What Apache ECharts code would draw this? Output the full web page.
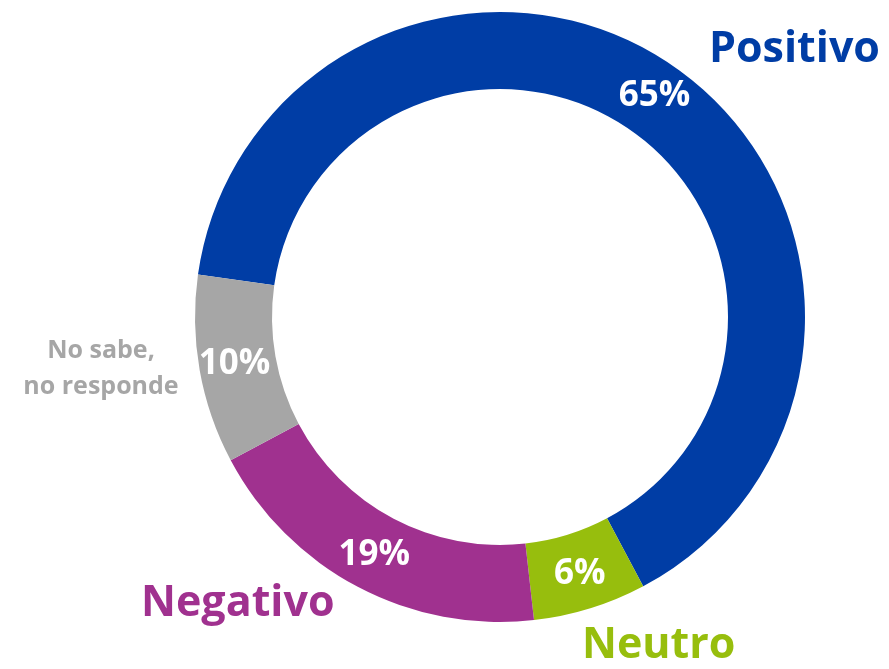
<!DOCTYPE html>
<html>
<head>
    <meta charset="utf-8">
    <title>Opinión</title>
    <script src="https://cdn.jsdelivr.net/npm/echarts@6/dist/echarts.min.js"></script>
    <style>
        html, body { margin: 0; padding: 0; background: #ffffff; }
        #chart { width: 889px; height: 669px; }
    </style>
</head>
<body>
<div id="chart"></div>
<script>
    // datos (en sentido horario desde la izquierda)
    var categorias = ['Positivo', 'Neutro', 'Negativo', 'No sabe,\nno responde'];
    var valores = [65, 6, 19, 10];
    var colores = ['#003DA5', '#97BE0D', '#A0318F', '#A6A6A6'];

    // posicion de los nombres fuera del anillo [x, y, align]
    var posNombres = [
        [709, 50, 'left'],
        [582, 646, 'left'],
        [141, 604, 'left'],
        [101, 369, 'center']
    ];
    var tamNombres = [43, 43, 43, 25];
    var altoLinea = [50, 50, 50, 36];

    var chart = echarts.init(document.getElementById('chart'));

    var datosAnillo = valores.map(function (v, i) {
        return {value: v, name: categorias[i], itemStyle: {color: colores[i]}};
    });
    var datosNombres = valores.map(function (v, i) {
        return {
            value: v,
            name: categorias[i],
            label: {color: colores[i], fontSize: tamNombres[i], lineHeight: altoLinea[i]}
        };
    });

    var option = {
        animation: false,
        series: [
            {
                type: 'pie',
                center: [500, 317],
                radius: [228, 305],
                startAngle: 172,
                clockwise: true,
                silent: true,
                data: datosAnillo,
                label: {
                    show: true,
                    position: 'inside',
                    formatter: '{c}%',
                    color: '#ffffff',
                    fontFamily: 'Open Sans',
                    fontWeight: 'bold',
                    fontSize: 35
                },
                labelLine: {show: false}
            },
            {
                // solo los nombres
                type: 'pie',
                center: [500, 317],
                radius: [228, 305],
                startAngle: 172,
                clockwise: true,
                silent: true,
                itemStyle: {color: 'transparent'},
                data: datosNombres,
                label: {
                    show: true,
                    position: 'outside',
                    formatter: '{b}',
                    overflow: 'none',
                    width: 300,
                    fontFamily: 'Open Sans',
                    fontWeight: 'bold'
                },
                labelLine: {show: false},
                labelLayout: function (params) {
                    var p = posNombres[params.dataIndex];
                    return {x: p[0], y: p[1], align: p[2], verticalAlign: 'middle'};
                }
            }
        ]
    };
    chart.setOption(option);
</script>
</body>
</html>
